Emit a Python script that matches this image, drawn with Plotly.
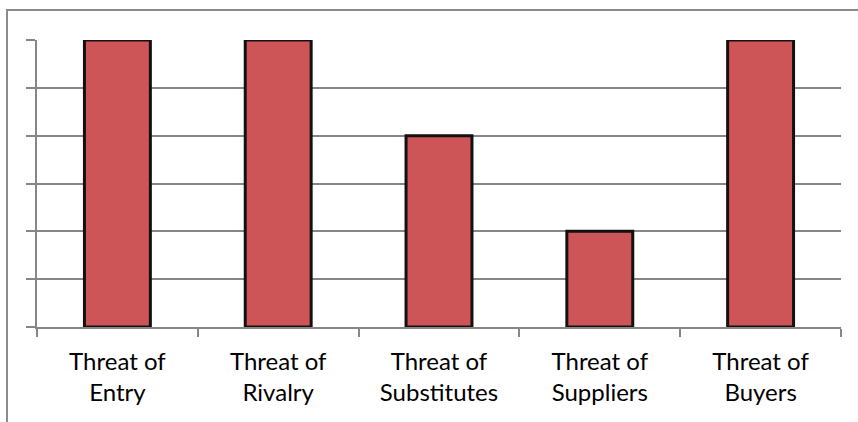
import plotly.graph_objects as go

# Five forces ratings
categories = ["Threat of<br>Entry", "Threat of<br>Rivalry", "Threat of<br>Substitutes",
              "Threat of<br>Suppliers", "Threat of<br>Buyers"]
ratings = [3, 3, 2, 1, 3]

W, H = 858, 422
L, R, T, B = 37, 17, 40, 95
pw, ph = W - L - R, H - T - B

fig = go.Figure()
fig.add_trace(go.Bar(
    x=categories, y=ratings,
    marker=dict(color="#CD5558", line=dict(color="#111111", width=3)),
    width=0.41,
    hoverinfo="x+y",
))

# outer chart frame (continues past the window on the right and bottom)
fig.add_shape(type="rect", xref="paper", yref="paper",
              x0=(7 - L) / pw, x1=(W + 20 - L) / pw,
              y0=-(B + 20) / ph, y1=1 + (T - 10) / ph,
              line=dict(color="#8C8C8C", width=2), fillcolor="rgba(0,0,0,0)", layer="below")

fig.update_layout(
    width=W, height=H,
    margin=dict(l=L, r=R, t=T, b=B),
    paper_bgcolor="white", plot_bgcolor="white",
    showlegend=False,
    font=dict(family="Lato, Calibri, sans-serif", color="#000000", size=24),
    xaxis=dict(
        showline=True, linecolor="#868686", linewidth=1.5,
        ticks="outside", tickson="boundaries", ticklen=8, tickcolor="#868686", tickwidth=1.5,
        ticklabelstandoff=12,
        showgrid=False, tickfont=dict(size=24, color="#000000"),
    ),
    yaxis=dict(
        range=[0, 3], dtick=0.5, showticklabels=False,
        showline=True, linecolor="#868686", linewidth=1.5,
        ticks="outside", ticklen=9, tickcolor="#868686", tickwidth=1.5,
        showgrid=True, gridcolor="#868686", gridwidth=1.5, zeroline=False,
    ),
)

fig.write_html("out.html")
